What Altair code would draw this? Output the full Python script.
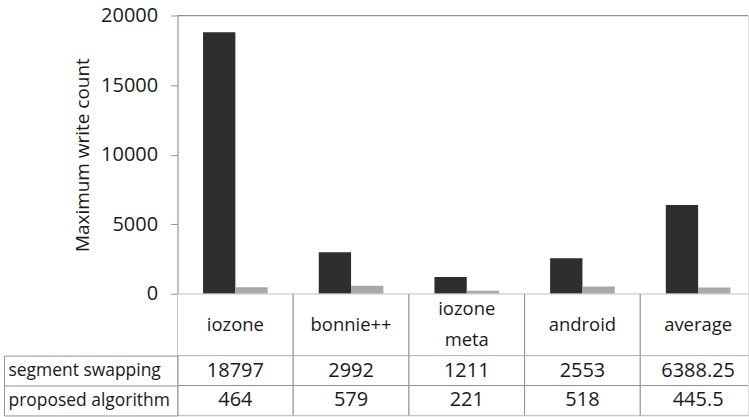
import altair as alt
import pandas as pd

categories = ["iozone", "bonnie++", "iozone meta", "android", "average"]
series_names = ["segment swapping", "proposed algorithm"]
segment_swapping = [18797, 2992, 1211, 2553, 6388.25]
proposed_algorithm = [464, 579, 221, 518, 445.5]
y_ticks = [0, 5000, 10000, 15000, 20000]
y_max = 20000


def fmt(v):
    return str(int(v)) if float(v).is_integer() else str(v)


rows = []
for s, vals in zip(series_names, [segment_swapping, proposed_algorithm]):
    for c, v in zip(categories, vals):
        rows.append({"category": c, "series": s, "value": v, "label": fmt(v)})
df = pd.DataFrame(rows)
cat_df = pd.DataFrame({"category": categories})

FONT = "Open Sans"
TXT = "#1a1a1a"
LINE = "#939393"
FS = 18.5    # header words
FR = 17.5    # row labels
FN = 20      # numbers
LH = 31
W = 572          # visible plot width (chart is cropped on the right like the original)
BAND_RANGE = 580  # full x range, last column runs past the right edge

x_enc = alt.X(
    "category:N",
    sort=categories,
    scale=alt.Scale(domain=categories, range=[0, BAND_RANGE], paddingInner=0, paddingOuter=0),
    axis=None,
)

y_bar = alt.Y(
    "value:Q",
    scale=alt.Scale(domain=[0, y_max], nice=False),
    axis=alt.Axis(
        values=y_ticks,
        format="d",
        title="Maximum write count",
        grid=False,
        domainColor=LINE,
        tickColor=LINE,
        tickSize=7,
        labelPadding=13,
        labelFontSize=FN,
        titleFontSize=19,
        titleFontWeight="normal",
        titlePadding=8,
        labelColor=TXT,
        titleColor=TXT,
        labelFont=FONT,
        titleFont=FONT,
    ),
)

bar_marks = alt.Chart(df).mark_bar(clip=True).encode(
    x=x_enc,
    xOffset=alt.XOffset(
        "series:N",
        sort=series_names,
        scale=alt.Scale(domain=series_names, paddingInner=0, paddingOuter=0.79),
    ),
    y=y_bar,
    color=alt.Color(
        "series:N",
        scale=alt.Scale(domain=series_names, range=["#2e2e2e", "#a9a9a9"]),
        legend=None,
    ),
)
top_line = alt.Chart(cat_df).mark_rule(color=LINE, strokeWidth=1).encode(
    y=alt.datum(y_max, type="quantitative")
)
bars = alt.layer(bar_marks, top_line).properties(width=W, height=279)

header_base = alt.Chart(cat_df).encode(x=x_enc)
header = alt.layer(
    header_base.mark_rect(fill="white", stroke=LINE, strokeWidth=1, clip=True),
    header_base.transform_filter("indexof(datum.category, ' ') < 0")
    .mark_text(fontSize=FS, font=FONT, color=TXT)
    .encode(text="category:N"),
    header_base.transform_filter("indexof(datum.category, ' ') >= 0")
    .mark_text(lineBreak=" ", fontSize=FS, lineHeight=LH, dy=-LH / 2, font=FONT, color=TXT)
    .encode(text="category:N"),
).properties(width=W, height=62)

row_scale = alt.Scale(domain=series_names, paddingInner=0, paddingOuter=0)
table_base = alt.Chart(df).encode(x=x_enc)
cells = table_base.mark_rect(fill="white", stroke=LINE, strokeWidth=1, clip=True).encode(
    y=alt.Y(
        "series:N",
        sort=series_names,
        scale=row_scale,
        axis=alt.Axis(
            orient="left",
            title=None,
            labelAlign="left",
            labelBaseline="middle",
            labelPadding=-4,
            labelFontSize=FR,
            labelFont=FONT,
            labelColor=TXT,
            ticks=True,
            tickSize=174,
            tickBand="extent",
            tickExtra=True,
            tickColor=LINE,
            domainColor=LINE,
        ),
    )
)
vals = table_base.mark_text(fontSize=FN, font=FONT, color=TXT).encode(
    y=alt.Y(
        "series:N",
        sort=series_names,
        scale=row_scale,
        axis=alt.Axis(
            orient="left",
            title=None,
            offset=174,
            labels=False,
            ticks=False,
            domain=True,
            domainColor=LINE,
        ),
    ),
    text="label:N",
)
table = (
    alt.layer(cells, vals)
    .resolve_axis(y="independent")
    .properties(width=W, height=60)
)

chart = (
    alt.vconcat(bars, header, table, spacing=0, bounds="flush")
    .properties(padding={"left": 3, "top": 4, "right": 0, "bottom": 1})
    .configure_view(stroke=None)
    .configure(font=FONT)
)

chart.save("out.html", embed_options={"renderer": "svg", "actions": False})
